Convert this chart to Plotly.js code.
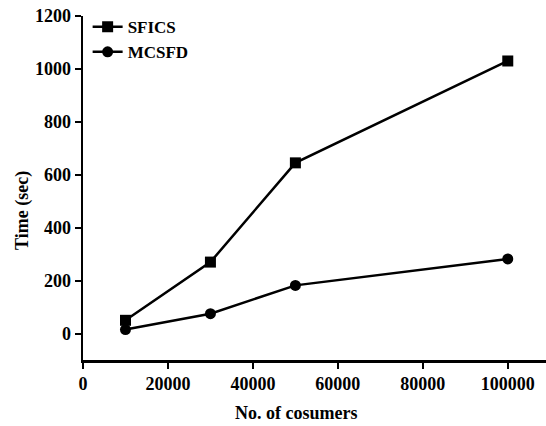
<!DOCTYPE html>
<html>
<head>
<meta charset="utf-8">
<script src="https://cdn.plot.ly/plotly-3.0.1.min.js"></script>
<style>html,body{margin:0;padding:0;background:#fff;}</style>
</head>
<body>
<div id="chart" style="width:546px;height:426px;"></div>
<script>
const consumers = [10000, 30000, 50000, 100000];
const sficsTime = [50, 270, 645, 1030];
const mcsfdTime = [15, 75, 182, 282];
const seriesNames = ["SFICS", "MCSFD"];
const xTickVals = [0, 20000, 40000, 60000, 80000, 100000];
const yTickVals = [0, 200, 400, 600, 800, 1000, 1200];
const xTitle = "No. of cosumers";
const yTitle = "Time (sec)";

const font = "Liberation Serif, Times New Roman, serif";

const traces = [
  {x: consumers, y: sficsTime, name: seriesNames[0], type: "scatter", mode: "lines+markers",
   line: {color: "#000", width: 2.5}, marker: {symbol: "square", size: 11, color: "#000"}},
  {x: consumers, y: mcsfdTime, name: seriesNames[1], type: "scatter", mode: "lines+markers",
   line: {color: "#000", width: 2.5}, marker: {symbol: "circle", size: 11, color: "#000"}}
];

const layout = {
  width: 546, height: 426,
  margin: {l: 83, r: 0, t: 16, b: 66},
  paper_bgcolor: "#fff", plot_bgcolor: "#fff",
  font: {family: font, color: "#000", size: 18, weight: "bold"},
  showlegend: true,
  legend: {x: 0.01, y: 1.02, xanchor: "left", yanchor: "top", bgcolor: "rgba(0,0,0,0)",
           font: {family: font, size: 17, weight: "bold"}, itemwidth: 30, tracegroupgap: 0},
  xaxis: {
    range: [0, 109000], tickvals: xTickVals, tickformat: "d",
    showgrid: false, zeroline: false, showline: true, linecolor: "#000", linewidth: 2.5,
    ticks: "outside", ticklen: 6, tickwidth: 2, tickcolor: "#000",
    tickfont: {family: font, size: 18, weight: "bold"}
  },
  yaxis: {
    range: [-100, 1200], tickvals: yTickVals,
    showgrid: false, zeroline: false, showline: true, linecolor: "#000", linewidth: 2.5,
    ticks: "outside", ticklen: 6, tickwidth: 2, tickcolor: "#000",
    tickfont: {family: font, size: 18, weight: "bold"}
  },
  annotations: [
    {text: xTitle, xref: "paper", yref: "paper", x: 0.46, y: -0.154, xanchor: "center", yanchor: "middle",
     showarrow: false, font: {family: font, size: 18, weight: "bold"}},
    {text: yTitle, xref: "paper", yref: "paper", x: -0.132, y: 0.436, xanchor: "center", yanchor: "middle",
     textangle: -90, showarrow: false, font: {family: font, size: 18, weight: "bold"}}
  ]
};

Plotly.newPlot("chart", traces, layout, {displayModeBar: false, staticPlot: true});
</script>
</body>
</html>
